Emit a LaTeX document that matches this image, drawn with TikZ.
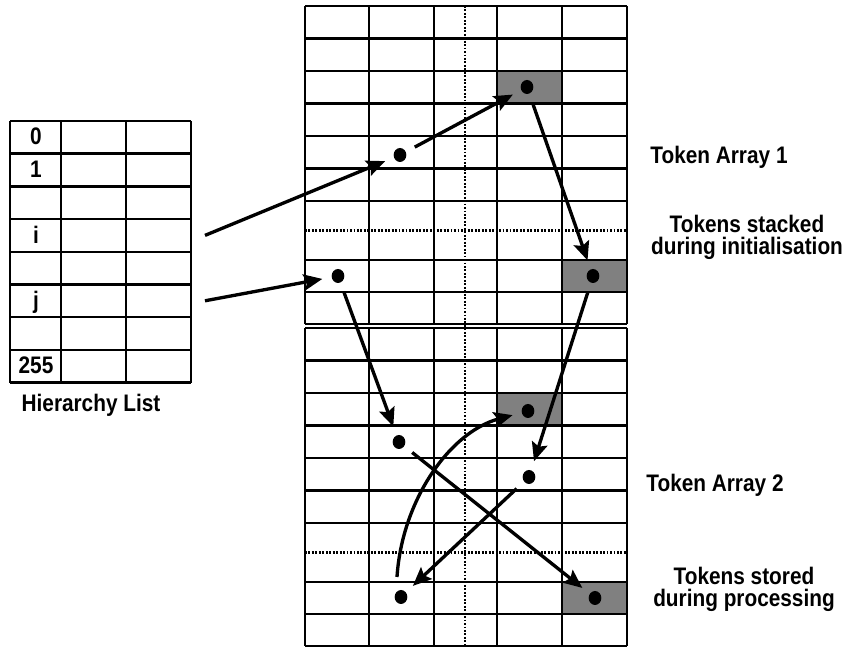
\documentclass[tikz,border=0pt]{standalone}
\usepackage{fontspec}
\setmainfont{Liberation Sans}
\usetikzlibrary{arrows.meta,shapes.geometric}
\definecolor{CellGray}{HTML}{808080}
\newcommand{\tall}[1]{\scalebox{1}[1.15]{#1}}

\begin{document}
\begin{tikzpicture}[x=0.75pt, y=-0.75pt,
        grid/.style={line width=1.8pt},
        dots/.style={line width=1.6pt, dash pattern=on 1.4pt off 1.2pt},
        tok/.style={ellipse, fill=black, inner sep=0pt, minimum width=9.5pt, minimum height=10.5pt},
        flow/.style={line width=2.5pt, -{Stealth[length=14pt,width=12pt,inset=2.5pt]},
            shorten <=7.5pt, shorten >=7pt},
        lbl/.style={font=\fontsize{15.6}{16.5}\selectfont\bfseries, align=center, inner sep=0pt}]
        \useasboundingbox (0,0) rectangle (844,648);
        % hierarchy list
        \foreach \k in {0,...,8} {
            \draw[grid] (10,121+32.7*\k) -- (191,121+32.7*\k);
        }
        \foreach \x in {10,61,126,191} {
            \draw[grid] (\x,121) -- (\x,382.6);
        }
        \foreach \k/\t in {0/0, 1/1, 3/i, 5/j, 7/255} {
            \node[lbl, anchor=base] (h\k) at (36,145+32.7*\k) {\tall{\t}};
        }
        \node[lbl, anchor=base] (hlist) at (91,412) {\tall{Hierarchy List}};
        \coordinate (hi) at (205,235.4);
        \coordinate (hj) at (205,300.8);
        % token arrays
        \foreach \y in {6,328} {
            \fill[CellGray] (497,\y+65) rectangle (562,\y+97.5);
            \fill[CellGray] (562,\y+254) rectangle (627,\y+286);
            \foreach \d in {0,32.5,65,97.5,130,162.5,195,254,286,318} {
                \draw[grid] (305,\y+\d) -- (627,\y+\d);
            }
            \draw[dots] (305,\y+224.5) -- (627,\y+224.5);
            \foreach \x in {305,369,434,497,562,627} {
                \draw[grid] (\x,\y) -- (\x,\y+318);
            }
        }
        \draw[dots] (465,6) -- (465,646);
        % tokens
        \node[tok] (a1) at (400,155) {};
        \node[tok] (a2) at (527,87) {};
        \node[tok] (a3) at (338,276) {};
        \node[tok] (a4) at (593,276) {};
        \node[tok] (b1) at (528,411) {};
        \node[tok] (b2) at (399,442) {};
        \node[tok] (b3) at (529,477) {};
        \node[tok] (b4) at (401,597) {};
        \node[tok] (b5) at (595,598) {};
        \coordinate (bstart) at (397,577);
        % moves
        \draw[flow, shorten <=0pt] (hi) -- (a1);
        \draw[flow, shorten <=0pt] (hj) -- (a3);
        \draw[flow] (a1) -- (a2);
        \draw[flow] (a2) -- (a4);
        \draw[flow] (a3) -- (b2);
        \draw[flow] (a4) -- (b3);
        \draw[flow] (b2) -- (b5);
        \draw[flow] (b3) -- (b4);
        \draw[flow, shorten <=0pt] (bstart) .. controls (402,500) and (450,432) .. (b1);
        % labels
        \node[lbl, anchor=base] (arr1) at (719,164) {\tall{Token Array 1}};
        \node[lbl] (stack) at (747,237) {\tall{Tokens stacked}\\\tall{during initialisation}};
        \node[lbl, anchor=base] (arr2) at (715,492) {\tall{Token Array 2}};
        \node[lbl] (store) at (744,589) {\tall{Tokens stored}\\\tall{during processing}};
    \end{tikzpicture}
\end{document}
